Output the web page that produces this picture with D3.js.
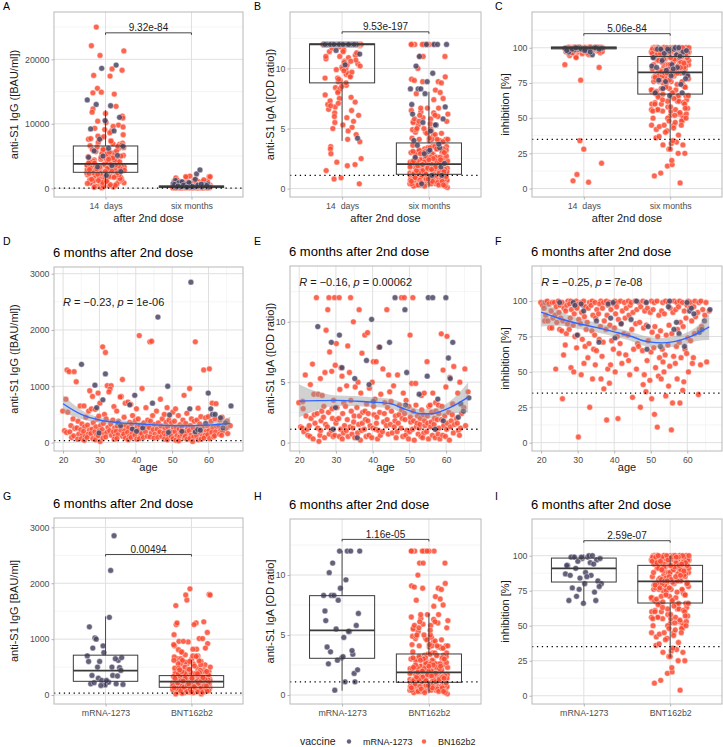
<!DOCTYPE html>
<html>
<head>
<meta charset="utf-8">
<script src="https://cdn.jsdelivr.net/npm/d3@7/dist/d3.min.js"></script>
<style>
  body { margin: 0; background: #fff; }
</style>
</head>
<body>
<script>
// ---- 14 days after 2nd dose (values only) ----
var mrna14IgG = [19100, 18600, 13700, 12800, 13000, 11000, 10500, 9200, 8900, 7600, 6500, 6200, 5800, 5100, 5000, 4800, 3500, 3300, 2600, 2000];
var mrna14IgA = [12, 12, 12, 12, 12, 12, 12, 12, 12, 11.5, 11.2, 10.3, 12, 12, 12, 12, 12, 12, 4.2, 12];
var mrna14Inh = [100, 100, 99.5, 99, 98.5, 100, 99, 97, 95, 100, 99.5, 98, 99, 100, 99, 98, 97, 100, 99, 98];

var bnt14IgG = [
  3200, 850, 5400, 2700, 9800, 1500, 4100, 6900, 300, 2900, 3800, 12300, 600, 4700, 2100, 7400, 3400, 1100, 5900, 2600,
  14600, 3100, 8300, 400, 4400, 2300, 6100, 3600, 1800, 10400, 2800, 5200, 900, 3900, 7800, 2400, 17400, 3300, 1300, 4900,
  6600, 200, 3000, 11200, 2000, 4200, 700, 5600, 3500, 8900, 2500, 1600, 4600, 22100, 3700, 1000, 6300, 2200, 9300, 3200,
  500, 4000, 2700, 7100, 1400, 5000, 3400, 12700, 100, 2900, 4800, 1900, 6800, 3600, 800, 5500, 2600, 10900, 3100, 1200,
  4300, 2200, 7600, 3800, 15500, 1700, 5300, 2800, 450, 4500, 3300, 8600, 2000, 6200, 3700, 1300, 9600, 2900, 18300, 4100,
  2400, 5800, 650, 3500, 7300, 3000, 1500, 11600, 4000, 2600, 20600, 5100, 1800, 3900, 6500, 250, 2300, 4600, 8100, 3400,
  1000, 6000, 2800, 14900, 3600, 550, 5700, 2100, 9100, 3200, 4400, 1600, 7000, 2500, 17500, 3800, 900, 4900, 2700, 6400,
  3000, 10200, 1400, 4200, 2300, 21300, 5600, 350, 3500, 8000, 2900, 4700, 1200, 6700, 3100, 14800, 2000, 5300, 750, 3700,
  25000, 4100, 2600, 7700, 1700, 3300, 9500, 4500, 150, 2400, 6000, 3900, 18500, 2200, 5000, 1100, 11800, 3600, 4800, 2800
];
var bnt14IgA = [
  12, 12, 9.5, 12, 7.2, 12, 10.8, 12, 12, 6.1, 12, 11.4, 12, 8.9, 12, 12, 5.0, 12, 10.1, 12,
  12, 9.9, 12, 12, 3.5, 12, 11.0, 7.8, 12, 12, 10.4, 12, 6.6, 12, 9.2, 12, 12, 11.7, 12, 0.9,
  12, 12, 8.4, 12, 10.6, 12, 5.6, 12, 12, 9.6, 12, 11.2, 12, 7.0, 12, 2.2, 12, 10.0, 12, 12,
  9.0, 12, 12, 6.3, 12, 11.5, 12, 12, 8.1, 12, 10.3, 12, 4.5, 12, 12, 9.4, 12, 11.9, 12, 3.3,
  12, 7.5, 12, 10.9, 12, 12, 5.3, 12, 9.7, 12, 12, 8.6, 12, 11.1, 12, 1.5, 12, 6.8, 12, 10.5,
  12, 12, 9.1, 12, 4.1, 12, 11.3, 12, 12, 7.6, 12, 10.2, 12, 2.9, 12, 8.3, 12, 12, 6.0, 12,
  11.6, 12, 12, 8.0, 12, 5.9, 12, 10.7, 12, 12, 9.3, 12, 0.4, 12, 7.3, 12, 11.8, 12, 4.8, 12,
  12, 10.0, 12, 6.5, 12, 12, 8.8, 12, 2.0, 12, 11.0, 12, 5.5, 12, 9.8, 12, 12, 7.1, 12, 1.9,
  12, 12, 8.5, 12, 10.6, 12, 3.9, 12, 6.9, 12, 12, 9.2, 12, 0.8, 12, 11.4, 12, 5.1, 12, 2.5
];
var bnt14Inh = [
  100, 99.5, 100.3, 98.8, 100, 99.2, 97.5, 100.1, 99.8, 96.4, 100, 99.6, 98.2, 100.4, 99.1, 95, 100, 99.7, 98.6, 100.2,
  99.3, 100, 18, 99.9, 97.9, 100.3, 99.4, 98.5, 100, 93.5, 99.8, 100.1, 97.2, 99.5, 100, 88, 99.0, 100.4, 98.9, 99.6,
  100, 99.2, 96.8, 100.2, 99.7, 98.4, 100, 77, 99.5, 100.3, 97.8, 99.9, 100, 94.5, 99.3, 100.1, 98.7, 99.6, 5.5, 100,
  99.8, 100, 98.1, 99.4, 100.4, 97.4, 99.9, 100, 34, 99.1, 100.2, 98.6, 99.7, 100, 96.1, 99.5, 100.3, 98.3, 99.8, 100,
  99.0, 100.1, 97.6, 99.6, 100, 86, 99.3, 100.2, 98.8, 99.9, 100, 95.5, 99.4, 100.4, 98.0, 99.7, 100, 10, 99.2, 100.1,
  98.5, 99.8, 100, 97.1, 99.5, 100.3, 99.0, 28, 100, 98.9, 99.6, 100.2, 96.6, 99.9, 100, 98.2, 99.3, 100.4, 93, 99.7,
  100, 99.4, 98.4, 100.1, 99.8, 4.5, 100, 97.7, 99.1, 100.3, 99.6, 98.7, 100, 99.2, 96.9, 100.2, 99.9, 98.1, 100, 99.5,
  99.7, 100, 98.6, 99.3, 100.4, 97.3, 99.8, 100, 99.0, 95.8, 100.1, 99.5, 98.3, 100, 99.9, 97.0, 100.3, 99.2, 98.8, 100,
  100.2, 99.6, 97.9, 100, 99.4, 98.5, 100.1, 99.8, 96.3, 100, 99.1, 98.0, 100.4, 99.7, 97.5, 100, 99.3, 98.9, 100.2, 99.5
];

// ---- 6 months after 2nd dose ----
// mRNA-1273 participants
var mrnaAge = [25, 29, 29, 31, 32, 35, 36, 38, 39, 40, 40, 42, 45, 46, 49, 49, 49, 53, 55, 55, 56, 57, 58, 59, 60, 61, 61, 62, 63, 64, 65, 66, 30];
var mrnaIgG = [1390, 1020, 620, 760, 1220, 350, 300, 670, 240, 840, 200, 260, 700, 2230, 1000, 490, 180, 200, 2850, 600, 190, 230, 220, 340, 880, 600, 500, 500, 440, 260, 350, 650, 170];
var mrnaIgA = [9.6, 8.3, 1.1, 8.9, 6.2, 5.3, 0.4, 6.8, 4.8, 10.2, 3.4, 7.9, 8.3, 12, 11, 5.8, 3.1, 4.0, 12, 5.5, 12, 1.1, 3.6, 1.8, 12, 7.0, 5.3, 8.3, 2.1, 3.2, 2.6, 3.7, 2.9];
var mrnaInh = [99, 99, 97, 98, 93, 86, 71, 98, 88, 99, 74, 84, 87, 100, 99, 82, 66, 68, 100, 96, 80, 85, 77, 68, 99, 93, 95, 91, 78, 80, 86, 94, 76];

// BNT162b2 participants, grouped by age (first group = age 20, last = age 66)
var bntFirstAge = 20;
var bntIgG = [
  [560, 210], [1290, 770, 540, 180], [1260, 300, 190, 90], [1260, 420, 250, 120], [1080, 380, 260, 150, 60],
  [650, 330, 230, 140, 70], [650, 450, 280, 200, 110, 40], [920, 560, 310, 220, 150, 90], [820, 600, 350, 240, 160, 70], [590, 420, 280, 190, 130, 50],
  [880, 700, 470, 300, 210, 120, 20], [1700, 500, 340, 230, 150, 80], [1600, 1010, 420, 270, 180, 100], [1010, 950, 900, 330, 210, 130], [640, 400, 260, 190, 120, 60],
  [560, 380, 290, 200, 140, 70], [1120, 820, 810, 310, 220, 110], [700, 450, 300, 210, 150, 80], [720, 360, 260, 180, 110, 50], [680, 480, 330, 240, 160, 90],
  [600, 390, 280, 200, 130, 60], [1900, 420, 300, 220, 140, 70], [960, 350, 250, 160, 90], [620, 400, 280, 190, 110], [1790, 1800, 380, 260, 170, 100],
  [480, 320, 230, 150, 80], [560, 350, 240, 160, 90], [770, 420, 290, 190, 110], [500, 360, 250, 170, 120, 60], [620, 400, 280, 200, 130, 50],
  [540, 350, 260, 180, 110, 70], [600, 380, 270, 190, 120, 40], [480, 320, 240, 170, 100, 30], [840, 400, 280, 200, 140, 80], [520, 340, 250, 180, 110, 60],
  [960, 420, 300, 210, 130, 70], [1790, 380, 260, 170, 100, 20], [610, 400, 270, 190, 120, 50], [460, 330, 240, 170, 110, 60], [1290, 440, 290, 200, 130, 80],
  [1310, 460, 300, 210, 140, 70], [700, 380, 260, 180, 100], [690, 420, 280, 190, 120], [400, 300, 220, 150], [450, 310, 200, 130],
  [380, 250, 160], [300]
];
var bntIgA = [
  [3.3, 1.3], [2.8, 1.2, 0.9, 3.4], [5.6, 1.1, 2.2, 0.6], [4.8, 1.4, 2.0, 0.5], [6.5, 2.3, 0.3, 1.6, 4.0],
  [12, 4.0, 2.4, 0.1, 1.2], [5.3, 3.9, 1.8, 0.6, 2.6, 1.0], [9.3, 5.8, 3.0, 1.5, 0.4, 2.1], [12, 11, 7.5, 2.5, 1.3, 0.7], [5.9, 3.5, 2.0, 1.0, 0.5, 2.8],
  [12, 8.2, 6.4, 2.9, 1.6, 0.6, 1.9], [12, 6.2, 4.4, 2.0, 1.1, 0.5], [5.5, 3.3, 2.4, 1.4, 0.8, 0.3], [8.0, 4.7, 3.0, 1.9, 1.0, 0.5], [12, 5.8, 2.6, 1.3, 0.7, 3.5],
  [10, 4.6, 2.2, 1.2, 0.4, 1.7], [11, 5.0, 2.9, 1.5, 0.8, 2.2], [7.4, 4.1, 2.5, 1.0, 0.2, 1.6], [8.9, 3.2, 1.9, 1.1, 0.5, 2.6], [9.1, 4.5, 2.4, 1.4, 0.6, 1.8],
  [6.7, 5.0, 2.3, 1.2, 0.4, 3.0], [6.7, 3.6, 2.1, 1.1, 0.3, 1.6], [7.9, 4.0, 2.5, 1.0, 0.6], [6.1, 3.3, 1.7, 0.9, 2.4], [11, 5.6, 2.9, 1.4, 0.7, 1.9],
  [4.2, 2.6, 1.5, 0.8, 3.4], [4.7, 2.2, 1.3, 0.4, 1.8], [5.6, 3.1, 1.6, 0.9, 2.3], [12, 4.1, 2.0, 1.2, 0.5, 2.7], [12, 3.5, 1.9, 1.0, 0.6, 2.4],
  [8.9, 3.0, 1.7, 0.9, 0.3, 2.1], [12, 4.9, 1.8, 1.1, 0.2, 2.6], [4.9, 2.2, 1.3, 0.7, 1.6, 3.1], [3.9, 2.0, 1.2, 0.5, 1.5, 2.7], [4.1, 2.3, 1.4, 0.8, 0.4, 1.8],
  [6.7, 3.0, 1.6, 0.9, 0.3, 2.2], [4.1, 2.5, 1.3, 0.6, 1.7, 3.1], [3.3, 2.0, 1.1, 0.4, 1.5, 2.6], [3.1, 1.9, 1.2, 0.7, 0.3, 2.4], [9.0, 6.0, 3.0, 1.4, 0.6, 1.9],
  [8.8, 4.6, 2.2, 1.1, 0.5, 1.6], [5.4, 2.5, 1.3, 0.2, 1.8], [6.3, 3.2, 1.5, 0.8, 2.3], [4.1, 2.0, 1.0, 1.6], [5.0, 2.4, 1.2, 0.6],
  [6.1, 2.9, 1.4], [4.2]
];
var bntInh = [
  [99, 97], [99, 95, 90, 86], [100, 98, 86, 81], [99, 93, 88, 81], [99, 96, 90, 85, 52],
  [100, 97, 92, 88, 80], [99, 95, 86, 79, 62, 31], [100, 97, 93, 84, 77, 69], [100, 98, 94, 88, 80, 53], [99, 96, 91, 83, 75, 50],
  [100, 98, 95, 87, 76, 67, 4], [99, 97, 92, 84, 73, 48], [100, 96, 89, 80, 68, 56], [99, 95, 85, 70, 60, 25], [100, 97, 90, 79, 66, 45],
  [99, 94, 88, 76, 65, 55], [100, 98, 91, 82, 73, 45], [99, 95, 86, 71, 61, 38], [100, 97, 90, 80, 52, 16], [99, 94, 83, 72, 55, 42],
  [100, 98, 91, 81, 66, 50], [99, 96, 87, 75, 63, 17], [100, 93, 84, 70, 56], [99, 95, 88, 77, 62], [100, 97, 90, 76, 48, 58],
  [99, 92, 80, 66, 32], [100, 94, 84, 70, 52], [99, 96, 85, 68, 25], [100, 93, 81, 65, 48, 41], [99, 95, 83, 72, 58, 36],
  [100, 92, 78, 64, 44, 31], [99, 94, 82, 67, 53, 20], [100, 90, 75, 60, 47, 11], [99, 93, 79, 66, 45, 57], [100, 91, 76, 62, 50, 33],
  [99, 95, 83, 69, 54, 40], [100, 92, 77, 61, 28, 9], [99, 94, 80, 68, 56, 45], [100, 96, 85, 71, 60, 28], [99, 93, 82, 66, 43, 37],
  [100, 97, 88, 74, 63, 50], [99, 95, 86, 72, 56], [100, 96, 89, 77, 60], [99, 92, 80, 34], [100, 94, 82, 55],
  [99, 90, 57], [93]
];

// box statistics: [lower whisker, q1, median, q3, upper whisker]
var boxIgGTime = [[0, 2480, 3770, 6560, 12100], [0, 140, 250, 370, 700]];
var boxIgATime = [[3.97, 8.8, 12, 12.05, 12.05], [0.1, 1.19, 2.03, 3.8, 8.06]];
var boxInhTime = [[98, 99.2, 99.9, 100.6, 101], [27.3, 67.1, 82.5, 93.8, 100.8]];
var boxIgGVac = [[160, 245, 437, 713, 1407], [30, 138, 240, 347, 629]];
var boxIgAVac = [[0.36, 3.06, 5.39, 8.28, 12.03], [0.14, 1.06, 1.89, 3.42, 6.8]];
var boxInhVac = [[67.1, 81.2, 91, 98.3, 101], [27.4, 66.2, 81.7, 93.1, 99.8]];

// p values of the brackets and where they sit
var pLabels = ["9.32e-84", "9.53e-197", "5.06e-84", "0.00494", "1.16e-05", "2.59e-07"];
var pHeights = [24100, 13.05, 110, 2515, 12.97, 110.7];

// loess fits vs age
var smoothAge = [20, 25, 30, 35, 40, 45, 48, 50, 53, 56, 60, 63, 66];
var smoothIgG = [690, 500, 400, 355, 335, 315, 305, 300, 298, 300, 310, 322, 340];
var smoothIgGLo = [540, 420, 350, 310, 295, 280, 270, 265, 262, 265, 262, 255, 220];
var smoothIgGHi = [840, 580, 450, 400, 375, 350, 340, 335, 334, 335, 358, 390, 460];
var smoothIgA = [3.43, 3.47, 3.49, 3.43, 3.35, 3.21, 2.86, 2.64, 2.39, 2.39, 2.75, 3.2, 3.76];
var smoothIgALo = [2.1, 2.7, 3.05, 3.0, 2.95, 2.85, 2.4, 2.2, 2.0, 2.0, 2.3, 2.45, 2.5];
var smoothIgAHi = [4.8, 4.2, 3.9, 3.85, 3.75, 3.6, 3.3, 3.05, 2.75, 2.8, 3.2, 3.95, 5.0];
var smoothInh = [92.2, 87.7, 84.2, 81.4, 78.3, 74.8, 72, 71, 70.5, 71.2, 74, 77.6, 81.8];
var smoothInhLo = [82, 82.5, 80.5, 78, 75, 71.5, 68.5, 67.5, 67, 67.5, 70, 72, 72.5];
var smoothInhHi = [101.5, 93, 88, 84.8, 81.6, 78, 75.5, 74.5, 74, 75, 78, 83, 91];

var corrR = ["\u22120.23", "\u22120.16", "\u22120.25"];
var corrP = ["1e-06", "0.00062", "7e-08"];

var cutIgG = 35.2, cutIgA = 1.1, cutInh = 35;

var timeLabels = ["14  days", "six months"];
var vacLabels = ["mRNA-1273", "BNT162b2"];
var legendLabels = ["mRNA-1273", "BN162b2"];

// ---------------------------------------------------------------
var FONT = "'Liberation Sans', Arial, Helvetica, sans-serif";
var colM = "#4b4564", colB = "#fb4a30";

var bnt6 = [];
bntIgG.forEach(function(grp, k) {
  grp.forEach(function(v, j) {
    bnt6.push({ age: bntFirstAge + k, igg: v, iga: bntIgA[k][j], inh: bntInh[k][j] });
  });
});
var mrna6 = mrnaAge.map(function(a, i) {
  return { age: a, igg: mrnaIgG[i], iga: mrnaIgA[i], inh: mrnaInh[i] };
});

var svg = d3.select("body").append("svg")
  .attr("width", 723)
  .attr("height", 747)
  .style("font-family", FONT);

// deterministic spread, replaces geom_jitter
function jit(i) {
  return ((i * 0.6180339887 + 0.37) % 1) - 0.5;
}

function makePanel(c) {
  var g = svg.append("g");
  var x = d3.scaleLinear().domain(c.xDomain).range([c.left, c.right]);
  var y = d3.scaleLinear().domain(c.yDomain).range([c.bottom, c.top]);
  var grid = g.append("g");

  (c.yMinor || []).forEach(function(v) {
    grid.append("line").attr("x1", c.left).attr("x2", c.right).attr("y1", y(v)).attr("y2", y(v))
      .attr("stroke", "#efefef").attr("stroke-width", 0.6);
  });
  (c.xMinor || []).forEach(function(v) {
    grid.append("line").attr("y1", c.top).attr("y2", c.bottom).attr("x1", x(v)).attr("x2", x(v))
      .attr("stroke", "#efefef").attr("stroke-width", 0.6);
  });
  c.yTicks.forEach(function(v) {
    grid.append("line").attr("x1", c.left).attr("x2", c.right).attr("y1", y(v)).attr("y2", y(v))
      .attr("stroke", "#e0e0e0").attr("stroke-width", 1);
  });
  c.xTicks.forEach(function(v) {
    grid.append("line").attr("y1", c.top).attr("y2", c.bottom).attr("x1", x(v)).attr("x2", x(v))
      .attr("stroke", "#e0e0e0").attr("stroke-width", 1);
  });

  var layer = g.append("g");

  g.append("rect")
    .attr("x", c.left).attr("y", c.top)
    .attr("width", c.right - c.left).attr("height", c.bottom - c.top)
    .attr("fill", "none").attr("stroke", "#b8b8b8").attr("stroke-width", 1);

  var yAxis = g.append("g")
    .attr("transform", "translate(" + c.left + ",0)")
    .call(d3.axisLeft(y).tickValues(c.yTicks).tickSize(2.5).tickPadding(2).tickFormat(d3.format("d")));
  var xAxis = g.append("g")
    .attr("transform", "translate(0," + c.bottom + ")")
    .call(d3.axisBottom(x).tickValues(c.xTicks).tickSize(2.5).tickPadding(3)
      .tickFormat(c.xLabels ? function(d, i) { return c.xLabels[i]; } : d3.format("d")));
  [yAxis, xAxis].forEach(function(a) {
    a.attr("font-family", FONT).attr("font-size", 8.8);
    a.select(".domain").remove();
    a.selectAll("line").attr("stroke", "#b3b3b3");
    a.selectAll("text").attr("fill", "#4d4d4d").style("white-space", "pre");
  });

  // panel letter
  svg.append("text").attr("x", c.letterX).attr("y", c.letterY)
    .attr("font-size", 10.5).attr("fill", "#000").text(c.letter);

  if (c.title) {
    svg.append("text").attr("x", c.left - 1).attr("y", c.top - 10)
      .attr("font-size", 13).attr("fill", "#000").text(c.title);
  }
  svg.append("text")
    .attr("transform", "translate(" + c.ylabX + "," + ((c.top + c.bottom) / 2) + ") rotate(-90)")
    .attr("text-anchor", "middle").attr("font-size", 11).attr("fill", "#1a1a1a")
    .text(c.ylab);
  if (c.xlab) {
    svg.append("text").attr("x", (c.left + c.right) / 2).attr("y", c.xlabY)
      .attr("text-anchor", "middle").attr("font-size", 11).attr("fill", "#1a1a1a")
      .text(c.xlab);
  }
  return { g: g, layer: layer, x: x, y: y, c: c };
}

function dots(p, data, xf, yf, col) {
  p.layer.append("g").selectAll("circle")
    .data(data)
    .enter().append("circle")
    .attr("cx", function(d, i) { return p.x(xf(d, i)); })
    .attr("cy", function(d) { return p.y(yf(d)); })
    .attr("r", 2.9)
    .attr("fill", col)
    .attr("fill-opacity", 0.85)
    .attr("stroke", "#fff")
    .attr("stroke-width", 0.5)
    .attr("stroke-opacity", 0.8);
}

function boxes(p, stats) {
  stats.forEach(function(s, k) {
    var cx = k + 1, hw = 0.375;
    var b = p.layer.append("g").attr("stroke", "#3a3a3a").attr("fill", "none");
    b.append("line").attr("x1", p.x(cx)).attr("x2", p.x(cx)).attr("y1", p.y(s[0])).attr("y2", p.y(s[1])).attr("stroke-width", 0.9);
    b.append("line").attr("x1", p.x(cx)).attr("x2", p.x(cx)).attr("y1", p.y(s[3])).attr("y2", p.y(s[4])).attr("stroke-width", 0.9);
    b.append("rect").attr("x", p.x(cx - hw)).attr("y", p.y(s[3]))
      .attr("width", p.x(cx + hw) - p.x(cx - hw)).attr("height", p.y(s[1]) - p.y(s[3]))
      .attr("stroke-width", 1);
    b.append("line").attr("x1", p.x(cx - hw)).attr("x2", p.x(cx + hw)).attr("y1", p.y(s[2])).attr("y2", p.y(s[2]))
      .attr("stroke-width", 1.8);
  });
}

function cutoff(p, v) {
  p.layer.append("line")
    .attr("x1", p.c.left).attr("x2", p.c.right).attr("y1", p.y(v)).attr("y2", p.y(v))
    .attr("stroke", "#000").attr("stroke-width", 1.3).attr("stroke-dasharray", "1.3,3.6");
}

function bracket(p, v, label) {
  var yy = p.y(v);
  p.layer.append("path")
    .attr("d", "M" + p.x(1) + "," + (yy + 2) + "V" + yy + "H" + p.x(2) + "V" + (yy + 2))
    .attr("fill", "none").attr("stroke", "#333").attr("stroke-width", 0.9);
  p.layer.append("text").attr("x", (p.x(1) + p.x(2)) / 2).attr("y", yy - 1.5)
    .attr("text-anchor", "middle").attr("font-size", 10).attr("fill", "#1a1a1a").text(label);
}

function smooth(p, fit, lo, hi) {
  var area = d3.area().curve(d3.curveMonotoneX)
    .x(function(d, i) { return p.x(smoothAge[i]); })
    .y0(function(d, i) { return p.y(lo[i]); })
    .y1(function(d, i) { return p.y(hi[i]); });
  var line = d3.line().curve(d3.curveMonotoneX)
    .x(function(d, i) { return p.x(smoothAge[i]); })
    .y(function(d) { return p.y(d); });
  p.layer.append("path").attr("d", area(fit)).attr("fill", "#999").attr("fill-opacity", 0.45);
  p.layer.append("path").attr("d", line(fit)).attr("fill", "none").attr("stroke", "#3366ff").attr("stroke-width", 1.4);
}

function corrLabel(p, yv, k) {
  var t = p.layer.append("text").attr("x", p.x(20)).attr("y", p.y(yv)).attr("dy", "0.35em")
    .attr("font-size", 11).attr("fill", "#1a1a1a");
  t.append("tspan").attr("font-style", "italic").text("R");
  t.append("tspan").text(" = " + corrR[k] + ", ");
  t.append("tspan").attr("font-style", "italic").text("p");
  t.append("tspan").text(" = " + corrP[k]);
}

var catDomain = [0.4, 2.6], ageDomain = [17.5, 69.5];
var cols = [
  { left: 54, right: 243, letterX: 3, ylabX: 18 },
  { left: 290, right: 481, letterX: 254, ylabX: 274 },
  { left: 532, right: 722, letterX: 495, ylabX: 509 }
];
var igGAxis = { ticks: [0, 1000, 2000, 3000], minor: [500, 1500, 2500] };
var igAAxis = { ticks: [0, 5, 10], minor: [2.5, 7.5, 12.5] };
var inhAxis = { ticks: [0, 25, 50, 75, 100], minor: [12.5, 37.5, 62.5, 87.5, 112.5] };
var title6 = "6 months after 2nd dose";

function cfg(col, o) {
  var c = Object.assign({}, cols[col], o);
  return c;
}

// ---- row 1: by time point ----
var pA = makePanel(cfg(0, { top: 12, bottom: 197, xDomain: catDomain, xTicks: [1, 2], xLabels: timeLabels,
  yDomain: [-1350, 27330], yTicks: [0, 10000, 20000], yMinor: [5000, 15000, 25000],
  letter: "A", letterY: 10, ylab: "anti-S1 IgG ([BAU/ml])", xlab: "after 2nd dose", xlabY: 222 }));
var pB = makePanel(cfg(1, { top: 12, bottom: 197, xDomain: catDomain, xTicks: [1, 2], xLabels: timeLabels,
  yDomain: [-0.7, 14.7], yTicks: igAAxis.ticks, yMinor: igAAxis.minor,
  letter: "B", letterY: 10, ylab: "anti-S1 IgA ([OD ratio])", xlab: "after 2nd dose", xlabY: 222 }));
var pC = makePanel(cfg(2, { top: 12, bottom: 197, xDomain: catDomain, xTicks: [1, 2], xLabels: timeLabels,
  yDomain: [-6, 125.4], yTicks: inhAxis.ticks, yMinor: inhAxis.minor,
  letter: "C", letterY: 10, ylab: "inhibition [%]", xlab: "after 2nd dose", xlabY: 222 }));

var timePanels = [
  [pA, bnt14IgG, mrna14IgG, "igg", boxIgGTime, cutIgG],
  [pB, bnt14IgA, mrna14IgA, "iga", boxIgATime, cutIgA],
  [pC, bnt14Inh, mrna14Inh, "inh", boxInhTime, cutInh]
];
timePanels.forEach(function(t, k) {
  var p = t[0], key = t[3];
  dots(p, t[1], function(d, i) { return 1 + jit(i) * 0.44; }, function(d) { return d; }, colB);
  dots(p, t[2], function(d, i) { return 1 + jit(i + 300) * 0.44; }, function(d) { return d; }, colM);
  dots(p, bnt6, function(d, i) { return 2 + jit(i + 500) * 0.44; }, function(d) { return d[key]; }, colB);
  dots(p, mrna6, function(d, i) { return 2 + jit(i + 900) * 0.44; }, function(d) { return d[key]; }, colM);
  boxes(p, t[4]);
  cutoff(p, t[5]);
  bracket(p, pHeights[k], pLabels[k]);
});

// ---- row 2: vs age ----
var pD = makePanel(cfg(0, { top: 267, bottom: 451, xDomain: ageDomain, xTicks: [20, 30, 40, 50, 60], xMinor: [25, 35, 45, 55, 65],
  yDomain: [-150, 3119], yTicks: igGAxis.ticks, yMinor: igGAxis.minor,
  letter: "D", letterY: 245, title: title6, ylab: "anti-S1 IgG ([BAU/ml])", xlab: "age", xlabY: 471 }));
var pE = makePanel(cfg(1, { top: 266, bottom: 451, xDomain: ageDomain, xTicks: [20, 30, 40, 50, 60], xMinor: [25, 35, 45, 55, 65],
  yDomain: [-0.7, 14.62], yTicks: igAAxis.ticks, yMinor: igAAxis.minor,
  letter: "E", letterY: 245, title: title6, ylab: "anti-S1 IgA ([OD ratio])", xlab: "age", xlabY: 471 }));
var pF = makePanel(cfg(2, { top: 266, bottom: 451, xDomain: ageDomain, xTicks: [20, 30, 40, 50, 60], xMinor: [25, 35, 45, 55, 65],
  yDomain: [-5.9, 124.8], yTicks: inhAxis.ticks, yMinor: inhAxis.minor,
  letter: "F", letterY: 245, title: title6, ylab: "inhibition [%]", xlab: "age", xlabY: 471 }));

var agePanels = [
  [pD, "igg", smoothIgG, smoothIgGLo, smoothIgGHi, cutIgG, 2500],
  [pE, "iga", smoothIgA, smoothIgALo, smoothIgAHi, cutIgA, 13.3],
  [pF, "inh", smoothInh, smoothInhLo, smoothInhHi, cutInh, 113.5]
];
agePanels.forEach(function(t, k) {
  var p = t[0], key = t[1];
  dots(p, bnt6, function(d, i) { return d.age + jit(i) * 0.8; }, function(d) { return d[key]; }, colB);
  dots(p, mrna6, function(d, i) { return d.age + jit(i + 400) * 0.8; }, function(d) { return d[key]; }, colM);
  smooth(p, t[2], t[3], t[4]);
  cutoff(p, t[5]);
  corrLabel(p, t[6], k);
});

// ---- row 3: by vaccine ----
var pG = makePanel(cfg(0, { top: 518, bottom: 704, xDomain: catDomain, xTicks: [1, 2], xLabels: vacLabels,
  yDomain: [-161, 3168], yTicks: igGAxis.ticks, yMinor: igGAxis.minor,
  letter: "G", letterY: 500, title: title6, ylab: "anti-S1 IgG [BAU/ml]" }));
var pH = makePanel(cfg(1, { top: 519, bottom: 704, xDomain: catDomain, xTicks: [1, 2], xLabels: vacLabels,
  yDomain: [-0.75, 14.67], yTicks: igAAxis.ticks, yMinor: igAAxis.minor,
  letter: "H", letterY: 500, title: title6, ylab: "anti-S1 IgA [OD ratio]" }));
var pI = makePanel(cfg(2, { top: 519, bottom: 704, xDomain: catDomain, xTicks: [1, 2], xLabels: vacLabels,
  yDomain: [-5.9, 126.2], yTicks: inhAxis.ticks, yMinor: inhAxis.minor,
  letter: "I", letterY: 500, title: title6, ylab: "inhibition [%]" }));

var vacPanels = [
  [pG, "igg", boxIgGVac, cutIgG],
  [pH, "iga", boxIgAVac, cutIgA],
  [pI, "inh", boxInhVac, cutInh]
];
vacPanels.forEach(function(t, k) {
  var p = t[0], key = t[1];
  dots(p, mrna6, function(d, i) { return 1 + jit(i + 900) * 0.44; }, function(d) { return d[key]; }, colM);
  dots(p, bnt6, function(d, i) { return 2 + jit(i + 500) * 0.44; }, function(d) { return d[key]; }, colB);
  boxes(p, t[2]);
  cutoff(p, t[3]);
  bracket(p, pHeights[k + 3], pLabels[k + 3]);
});

// ---- legend ----
var leg = svg.append("g").attr("font-size", 9);
leg.append("text").attr("x", 300).attr("y", 745).attr("font-size", 10.5).attr("fill", "#1a1a1a").text("vaccine");
[colM, colB].forEach(function(col, i) {
  var lx = [349, 424][i];
  leg.append("circle").attr("cx", lx).attr("cy", 741.5).attr("r", 2.2).attr("fill", col).attr("fill-opacity", 0.85);
  leg.append("text").attr("x", lx + 14).attr("y", 744.8).attr("fill", "#1a1a1a").text(legendLabels[i]);
});
</script>
</body>
</html>
